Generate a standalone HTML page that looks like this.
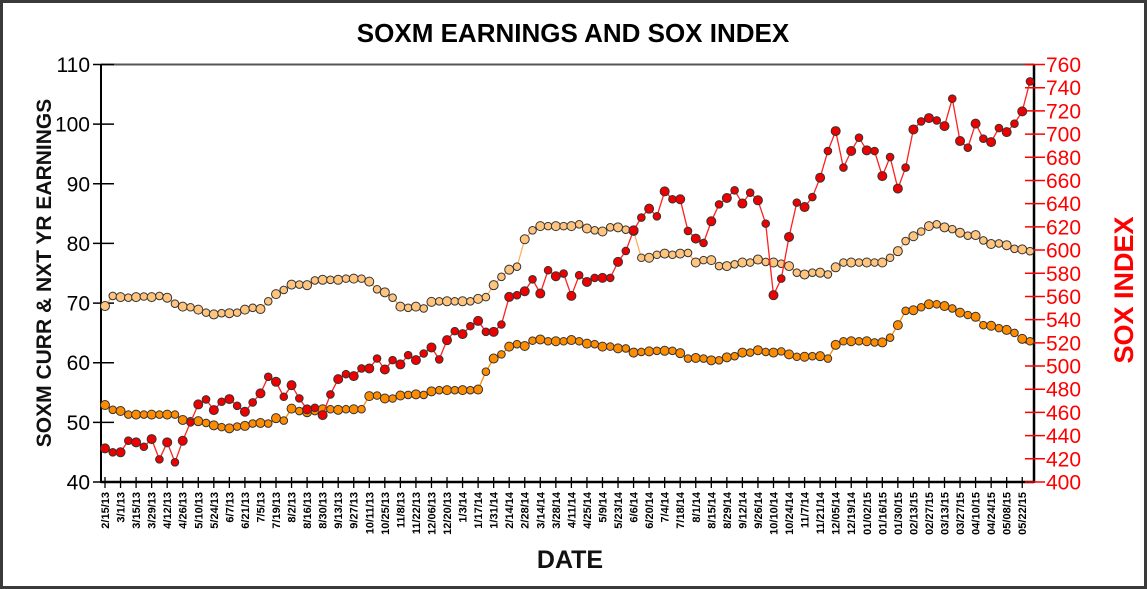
<!DOCTYPE html>
<html><head><meta charset="utf-8"><style>
body{margin:0;background:#fff}
#wrap{position:relative;width:1147px;height:589px;overflow:hidden}
svg{display:block}
</style></head><body>
<div id="wrap">
<svg id="chart" width="1147" height="589" xmlns="http://www.w3.org/2000/svg" font-family="Liberation Sans, Arial, sans-serif">
<rect x="1.5" y="1.5" width="1144" height="586" fill="#fff" stroke="#3a3a3a" stroke-width="3"/>
<text x="573" y="42" text-anchor="middle" font-size="26" font-weight="bold" fill="#000">SOXM EARNINGS AND SOX INDEX</text>
<text transform="translate(51,273) rotate(-90)" text-anchor="middle" font-size="21" font-weight="bold" fill="#111">SOXM CURR &amp; NXT YR EARNINGS</text>
<text transform="translate(1133,290) rotate(-90)" text-anchor="middle" font-size="27" font-weight="bold" fill="#f00">SOX INDEX</text>
<text x="570" y="568" text-anchor="middle" font-size="25" font-weight="bold" fill="#111">DATE</text>
<g id="axes"></g>
<g id="series"></g>
</svg>
</div>
<script>
const dateLabels=["2/15/13","3/1/13","3/15/13","3/29/13","4/12/13","4/26/13","5/10/13","5/24/13","6/7/13","6/21/13","7/5/13","7/19/13","8/2/13","8/16/13","8/30/13","9/13/13","9/27/13","10/11/13","10/25/13","11/8/13","11/22/13","12/06/13","12/20/13","1/3/14","1/17/14","1/31/14","2/14/14","2/28/14","3/14/14","3/28/14","4/11/14","4/25/14","5/9/14","5/23/14","6/6/14","6/20/14","7/4/14","7/18/14","8/1/14","8/15/14","8/29/14","9/12/14","9/26/14","10/10/14","10/24/14","11/7/14","11/21/14","12/05/14","12/19/14","01/02/15","01/16/15","01/30/15","02/13/15","02/27/15","03/13/15","03/27/15","04/10/15","04/24/15","05/08/15","05/22/15"];
const leftTicks=[40,50,60,70,80,90,100,110];
const rightTicks=[400,420,440,460,480,500,520,540,560,580,600,620,640,660,680,700,720,740,760];
const nxtYrEarnings=[69.5,71.2,71,70.9,71,71.1,71,71.2,70.9,69.9,69.4,69.3,68.9,68.4,68.1,68.3,68.3,68.4,68.9,69.2,69,70.3,71.5,72.2,73.1,73.1,73,73.8,73.9,73.9,73.9,74.1,74.1,74.1,73.6,72.3,71.8,70.9,69.4,69.2,
69.4,69.1,70.2,70.3,70.3,70.3,70.3,70.3,70.7,71.0,73.0,74.4,75.6,76.1,80.7,82.2,82.9,82.9,82.9,82.9,82.9,83.2,82.5,82.2,82.0,82.7,82.7,82.3,82.1,77.6,77.6,78.1,78.3,78.1,78.3,78.4,76.8,77.2,77.2,76.2,76.2,76.5,
76.8,76.8,77.3,76.9,76.8,76.6,76.2,75.1,74.8,75.1,75.1,74.8,76.0,76.8,76.8,76.8,76.8,76.8,76.8,77.6,78.7,80.4,81.2,82.0,82.9,83.2,82.7,82.4,81.8,81.3,81.4,80.5,79.9,80.0,79.7,79.1,79.0,78.7];
const currEarnings=[52.9,52.1,51.9,51.3,51.3,51.3,51.3,51.3,51.3,51.3,50.4,50.2,50.2,49.9,49.5,49.2,49.0,49.3,49.4,49.8,49.9,49.8,50.7,50.3,52.3,51.9,51.7,51.9,52.2,52.2,52.1,52.2,52.2,52.2,54.4,54.5,54.0,54.0,54.5,54.6,
54.7,54.6,55.2,55.4,55.4,55.4,55.4,55.4,55.5,58.5,60.7,61.4,62.7,63.1,62.8,63.7,63.9,63.6,63.6,63.6,63.8,63.6,63.2,63.1,62.7,62.7,62.4,62.4,61.7,61.8,61.9,62.0,62.0,62.0,61.6,60.7,60.8,60.7,60.4,60.4,60.9,61.1,
61.7,61.7,62.1,61.8,61.7,61.9,61.4,61.0,61.0,61.1,61.1,60.7,63.0,63.6,63.6,63.6,63.6,63.4,63.4,64.2,66.3,68.7,68.8,69.3,69.8,69.8,69.5,69.1,68.4,68.0,67.7,66.3,66.2,65.8,65.5,65.0,64.0,63.6];
const soxIndex=[429,425.6,425.6,435.6,434.2,430.4,437,419.5,434.2,417,435.6,451.4,466.9,471.2,462,469.2,471.5,465.7,460.6,468.6,476.4,490.7,486.4,473.5,483.5,472.1,462.6,464,457.7,475.5,488.7,493,491.3,497.9,497.9,506.5,497,505.1,501.4,509.4,
505.1,510.8,516,505.7,522.3,530.1,527.5,534.4,538.9,529.5,529.5,535.8,559.6,561.1,564.5,574.8,562.5,582.6,577.4,579.7,560.5,578.3,572.5,576,576,576,589.8,599.2,617,628,635.7,629.1,650.6,643.8,643.8,616.5,609.9,606.1,624.8,639.4,644.9,651.5,
640.1,649.5,642.9,622.8,561.1,575.4,611.3,640.9,637.1,645.7,662.4,685.4,702.6,671.1,685.4,696.9,686,685.4,663.8,680.2,653,671.1,704,710.9,713.8,711.8,706.9,730.5,694,688.3,709,696,693.1,705.2,701.7,709,719.6,745.4];

const NS="http://www.w3.org/2000/svg";
const X0=101,X1=1034,Y0=482,Y1=64.5;
const n=soxIndex.length;
function xAt(i){return 105+i*(1030-105)/(n-1);}
function yL(v){return Y0-(v-40)/(110-40)*(Y0-Y1);}
function yR(v){return Y0-(v-400)/(760-400)*(Y0-Y1);}
function mk(tag,attrs,parent){const e=document.createElementNS(NS,tag);for(const k in attrs)e.setAttribute(k,attrs[k]);parent.appendChild(e);return e;}
const axes=document.getElementById('axes');
const ser=document.getElementById('series');

let e;
e=mk('line',{x1:X0,y1:Y1,x2:X1,y2:Y1,stroke:'#555','stroke-width':2},axes);


e=mk('line',{x1:X0,y1:Y1,x2:X0,y2:Y0+1,stroke:'#000','stroke-width':2},axes);


e=mk('line',{x1:X1,y1:Y1,x2:X1,y2:Y0+1,stroke:'#000','stroke-width':2.5},axes);


e=mk('line',{x1:X0,y1:Y0,x2:X1,y2:Y0,stroke:'#000','stroke-width':2.5},axes);



leftTicks.forEach(v=>{
  const y=yL(v);
  const t=mk('line',{x1:93,y1:y,x2:114,y2:y,stroke:'#000','stroke-width':1.5},axes);
  
  
  const l=mk('text',{x:90,y:y+7.5,'text-anchor':'end','font-size':21,fill:'#000'},axes);
  l.textContent=v;
  
  
});
rightTicks.forEach(v=>{
  const y=yR(v);
  const t=mk('line',{x1:1025,y1:y,x2:1045,y2:y,stroke:'#f00','stroke-width':1.5},axes);
  
  
  const l=mk('text',{x:1046,y:y+7.5,'font-size':21,fill:'#f00'},axes);
  l.textContent=v;
  
  
});
dateLabels.forEach((d,k)=>{
  const x=xAt(k*2);
  const t=mk('line',{x1:x,y1:Y0-5,x2:x,y2:Y0+6,stroke:'#000','stroke-width':1.3},axes);
  
  
  const l=mk('text',{transform:`translate(${x+4},${492}) rotate(-90)`,'text-anchor':'end','font-size':11,'font-weight':'bold',fill:'#000'},axes);
  l.textContent=d;
  
  
});

function drawSeries(vals,yf,lineColor,fill,name){
  const g=mk('g',{},ser);
  
  
  const pts=vals.map((v,i)=>xAt(i).toFixed(1)+','+yf(v).toFixed(1)).join(' ');
  const pl=mk('polyline',{points:pts,fill:'none',stroke:lineColor,'stroke-width':1.3},g);
  
  
  vals.forEach((v,i)=>{
    const c=mk('circle',{cx:xAt(i),cy:yf(v),r:(i%2?3.8:4.5),fill:fill,stroke:'#333','stroke-width':1},g);
    
    
  });
}
drawSeries(nxtYrEarnings,yL,'#ffb060','#ffc47e','nxt-yr-earnings');
drawSeries(currEarnings,yL,'#ff8c00','#ff8c00','curr-earnings');
drawSeries(soxIndex,yR,'#ff2020','#ee0000','sox-index');
</script>
</body></html>
